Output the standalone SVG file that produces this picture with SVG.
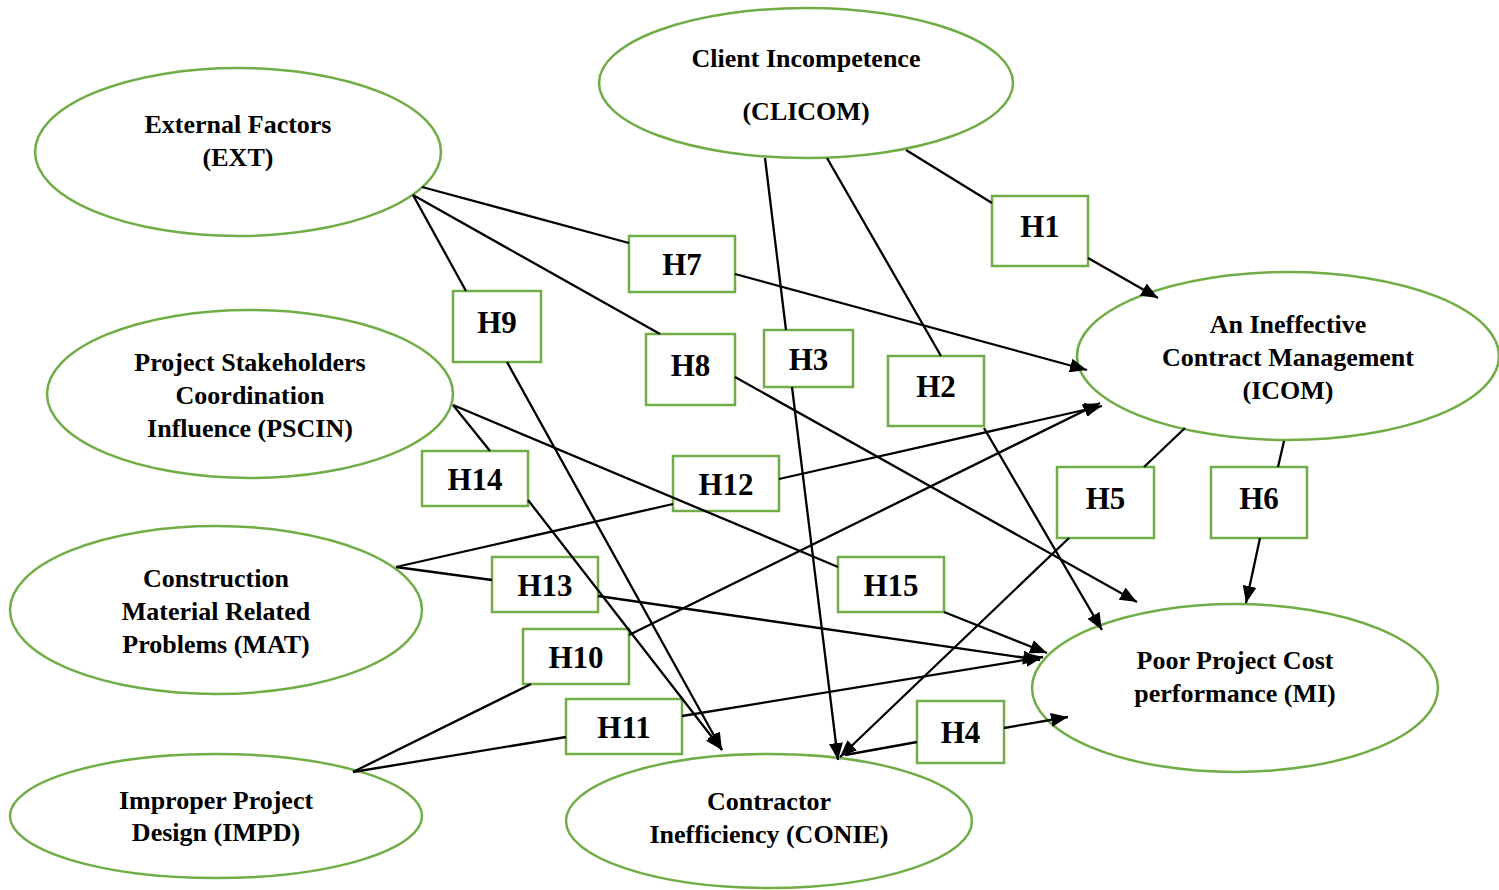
<svg xmlns="http://www.w3.org/2000/svg" width="1499" height="890" viewBox="0 0 1499 890">
<style>
.node ellipse{fill:#fff;stroke:#70AD47;stroke-width:2.5}
.node text{font-family:"Liberation Serif","Times New Roman",serif;font-weight:bold;font-size:26px;text-anchor:middle;fill:#000}
.hyp rect{fill:#fff;stroke:#70AD47;stroke-width:2.5}
.hyp text{font-family:"Liberation Serif","Times New Roman",serif;font-weight:bold;font-size:31px;text-anchor:middle;fill:#000}
#connectors path{fill:none;stroke:#000;stroke-width:2.3;marker-end:url(#arr)}
</style>
<defs>
<marker id="arr" markerUnits="userSpaceOnUse" markerWidth="18" markerHeight="14" refX="17" refY="7" orient="auto">
<path d="M0,0 L17,7 L0,14 z" fill="#000"/>
</marker>
</defs>
<rect width="1499" height="890" fill="#fff"/>
<g id="EXT" class="node"><ellipse cx="238" cy="152" rx="203" ry="84"/><text x="238" y="133">External Factors</text><text x="238" y="166">(EXT)</text></g>
<g id="CLICOM" class="node"><ellipse cx="806" cy="83" rx="207" ry="75"/><text x="806" y="67">Client Incompetence</text><text x="806" y="120">(CLICOM)</text></g>
<g id="PSCIN" class="node"><ellipse cx="250" cy="394" rx="203" ry="84"/><text x="250" y="371">Project Stakeholders</text><text x="250" y="404">Coordination</text><text x="250" y="437">Influence (PSCIN)</text></g>
<g id="MAT" class="node"><ellipse cx="216" cy="610" rx="206" ry="84"/><text x="216" y="587">Construction</text><text x="216" y="620">Material Related</text><text x="216" y="653">Problems (MAT)</text></g>
<g id="IMPD" class="node"><ellipse cx="216" cy="816" rx="206" ry="62"/><text x="216" y="809">Improper Project</text><text x="216" y="841">Design (IMPD)</text></g>
<g id="CONIE" class="node"><ellipse cx="769" cy="821" rx="203" ry="67"/><text x="769" y="810">Contractor</text><text x="769" y="843">Inefficiency (CONIE)</text></g>
<g id="ICOM" class="node"><ellipse cx="1288" cy="356" rx="211" ry="84"/><text x="1288" y="333">An Ineffective</text><text x="1288" y="366">Contract Management</text><text x="1288" y="399">(ICOM)</text></g>
<g id="MI" class="node"><ellipse cx="1235" cy="688" rx="203" ry="84"/><text x="1235" y="669">Poor Project Cost</text><text x="1235" y="702">performance (MI)</text></g>
<g id="H1" class="hyp"><rect x="992" y="196" width="96" height="70"/><text x="1040" y="237">H1</text></g>
<g id="H2" class="hyp"><rect x="888" y="356" width="96" height="70"/><text x="936" y="397">H2</text></g>
<g id="H3" class="hyp"><rect x="764" y="330" width="89" height="57"/><text x="808.5" y="370">H3</text></g>
<g id="H4" class="hyp"><rect x="917" y="701" width="87" height="62"/><text x="960.5" y="743">H4</text></g>
<g id="H5" class="hyp"><rect x="1057" y="467" width="97" height="71"/><text x="1105.5" y="509">H5</text></g>
<g id="H6" class="hyp"><rect x="1211" y="467" width="96" height="71"/><text x="1259" y="509">H6</text></g>
<g id="H7" class="hyp"><rect x="629" y="236" width="106" height="56"/><text x="682" y="275">H7</text></g>
<g id="H8" class="hyp"><rect x="646" y="334" width="89" height="71"/><text x="690.5" y="376">H8</text></g>
<g id="H9" class="hyp"><rect x="453" y="291" width="88" height="71"/><text x="497" y="333">H9</text></g>
<g id="H10" class="hyp"><rect x="523" y="629" width="106" height="55"/><text x="576" y="668">H10</text></g>
<g id="H11" class="hyp"><rect x="566" y="699" width="116" height="55"/><text x="624" y="738">H11</text></g>
<g id="H12" class="hyp"><rect x="673" y="456" width="106" height="55"/><text x="726" y="495">H12</text></g>
<g id="H13" class="hyp"><rect x="492" y="557" width="106" height="55"/><text x="545" y="596">H13</text></g>
<g id="H14" class="hyp"><rect x="422" y="451" width="106" height="55"/><text x="475" y="490">H14</text></g>
<g id="H15" class="hyp"><rect x="838" y="557" width="106" height="55"/><text x="891" y="596">H15</text></g>
<g id="connectors">
<path d="M906,150 L992,203 M1088,258 L1158,298"/>
<path d="M941,356 L827,158 M984,428 L1102,630"/>
<path d="M786,330 L765,158 M792,387 L838,760"/>
<path d="M845,755 L917,742 M1004,728 L1068,717"/>
<path d="M1185,428 L1144,467 M1069,538 L840,757"/>
<path d="M1284,441 L1278,467 M1260,538 L1246,603"/>
<path d="M422,187 L629,243 M735,274 L1087,370"/>
<path d="M413,195 L660,334 M735,377 L1137,602"/>
<path d="M413,195 L466,291 M507,362 L722,750"/>
<path d="M353,772 L531,684 M629,635 L1100,403"/>
<path d="M353,772 L566,737 M682,716 L1043,657"/>
<path d="M396,567 L673,504 M779,479 L1102,406"/>
<path d="M396,567 L492,580 M598,596 L1040,660"/>
<path d="M453,405 L490,451 M528,500 L722,750"/>
<path d="M453,405 L838,567 M944,612 L1047,653"/>
</g>
</svg>
